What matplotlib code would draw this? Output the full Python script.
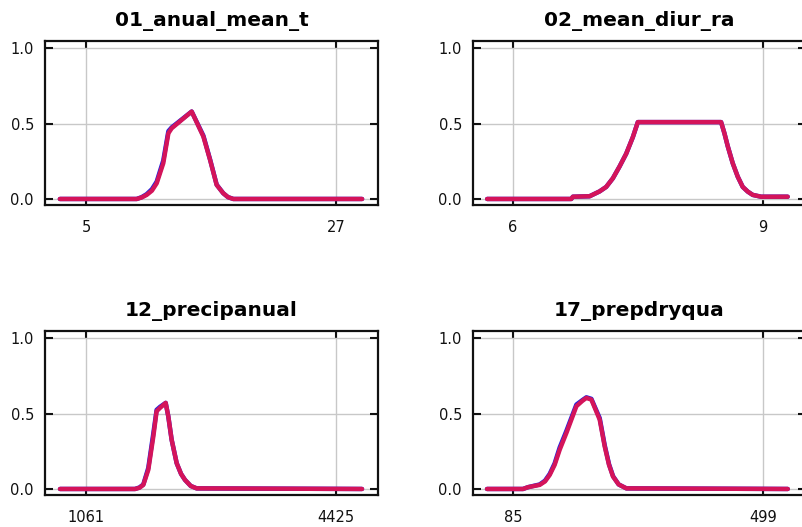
"""Response curves, 2x2 panels."""
import matplotlib
matplotlib.use("Agg")
import matplotlib.pyplot as plt

titles = ["01_anual_mean_t", "02_mean_diur_ra", "12_precipanual", "17_prepdryqua"]
xticks = [[5, 27], [6, 9], [1061, 4425], [85, 499]]
xlims = [(1.39, 30.7), (5.52, 9.52), (509, 4990), (18.8, 570.2)]

# 01_anual_mean_t
x1 = [2.7, 9.46, 9.9, 10.34, 10.8, 11.22, 11.80, 12.25, 12.54, 14.30, 15.33, 15.92, 16.5, 17.08, 17.5, 17.97, 29.3]
r1 = [0, 0, 0.01, 0.027, 0.055, 0.104, 0.237, 0.436, 0.469, 0.58, 0.414, 0.259, 0.093, 0.038, 0.012, 0, 0]
b1 = [0, 0, 0.012, 0.032, 0.065, 0.115, 0.255, 0.45, 0.475, 0.58, 0.42, 0.262, 0.095, 0.038, 0.012, 0, 0]

# 02_mean_diur_ra
x2 = [5.69, 6.70, 6.72, 6.92, 7.04, 7.12, 7.20, 7.28, 7.36, 7.44, 7.50, 8.50, 8.54, 8.58, 8.64, 8.70,
      8.76, 8.82, 8.88, 8.98, 9.30]
r2 = [0, 0, 0.015, 0.018, 0.05, 0.08, 0.137, 0.215, 0.30, 0.41, 0.51, 0.51, 0.436, 0.35, 0.237, 0.148,
      0.08, 0.049, 0.027, 0.015, 0.015]
b2 = [0, 0, 0.015, 0.018, 0.05, 0.08, 0.137, 0.215, 0.30, 0.41, 0.51, 0.51, 0.436, 0.35, 0.237, 0.148,
      0.08, 0.049, 0.027, 0.015, 0.015]

# 12_precipanual
x3 = [711, 1720, 1780, 1832, 1899, 1967, 2011, 2057, 2133, 2168, 2213, 2281, 2340, 2393, 2470, 2550, 4775]
r3 = [0, 0, 0.008, 0.027, 0.127, 0.349, 0.516, 0.538, 0.571, 0.482, 0.327, 0.171, 0.1, 0.06, 0.02, 0.004, 0]
b3 = [0, 0, 0.01, 0.03, 0.14, 0.37, 0.525, 0.545, 0.571, 0.482, 0.327, 0.171, 0.1, 0.06, 0.02, 0.004, 0]

# 17_prepdryqua
x4 = [42, 101.6, 110, 129.2, 138, 145.8, 154, 162.3, 173.4, 190, 200, 206.5, 214.8, 228.6, 236.9, 244,
      250.7, 260, 272.8, 540]
r4 = [0, 0, 0.012, 0.027, 0.05, 0.093, 0.16, 0.26, 0.371, 0.549, 0.585, 0.604, 0.593, 0.46, 0.282, 0.16,
      0.082, 0.03, 0.004, 0]
b4 = [0, 0, 0.012, 0.03, 0.055, 0.10, 0.17, 0.275, 0.385, 0.56, 0.59, 0.608, 0.598, 0.47, 0.29, 0.165,
      0.085, 0.03, 0.004, 0]

xs = [x1, x2, x3, x4]
reds = [r1, r2, r3, r4]
blues = [b1, b2, b3, b4]

plt.rcParams["font.family"] = "DejaVu Sans"

fig = plt.figure(figsize=(8.03, 5.27), dpi=100)
w, h = 333 / 803, 164 / 527
pos = [(45 / 803, 322 / 527), (473 / 803, 322 / 527),
       (45 / 803, 32 / 527), (473 / 803, 32 / 527)]

for i in range(4):
    ax = fig.add_axes([pos[i][0], pos[i][1], w, h])
    ax.plot(xs[i], blues[i], color="#2222dd", lw=3.2, solid_capstyle="round",
            solid_joinstyle="round", zorder=3)
    ax.plot(xs[i], reds[i], color="#d4145a", lw=3.2, solid_capstyle="round",
            solid_joinstyle="round", zorder=4)
    ax.set_xlim(*xlims[i])
    ax.set_ylim(-0.04, 1.048)
    ax.set_xticks(xticks[i])
    ax.set_yticks([0, 0.5, 1.0])
    ax.set_yticklabels(["0.0", "0.5", "1.0"])
    ax.grid(True, color="#c8c8c8", lw=1)
    ax.set_axisbelow(True)
    for sp in ax.spines.values():
        sp.set_linewidth(1.6)
        sp.set_color("#111111")
    ax.tick_params(direction="in", length=6, width=1.5, top=True, right=True,
                   labelsize=10.5, colors="#111111")
    ax.tick_params(axis="x", pad=11)
    ax.tick_params(axis="y", pad=8)
    ax.set_title(titles[i], fontsize=14.5, fontweight="bold", pad=10.5)

fig.savefig("out.png", dpi=100)
